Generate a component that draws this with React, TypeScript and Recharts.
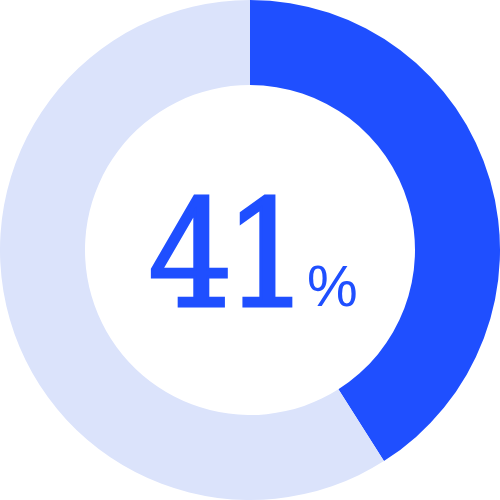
import { PieChart, Pie, Cell } from "recharts";

const labels = ["Done", "Remaining"];
const values = [41, 59];
const colors = ["#1f4fff", "#dbe3fb"];

const data = labels.map((name, i) => ({ name, value: values[i] }));

export default function App() {
  return (
    <div style={{ position: "fixed", left: 0, top: 0, width: 500, height: 500, background: "#fff" }}>
      <PieChart width={500} height={500} margin={{ top: 0, right: 0, bottom: 0, left: 0 }}>
        <Pie
          data={data}
          dataKey="value"
          cx={250}
          cy={250}
          innerRadius={165}
          outerRadius={250}
          startAngle={90}
          endAngle={-270}
          stroke="none"
          isAnimationActive={false}
        >
          {data.map((d, i) => (
            <Cell key={d.name} fill={colors[i]} />
          ))}
        </Pie>
        <text
          x={225}
          y={306}
          textAnchor="middle"
          fill="#1f4fff"
          stroke="#1f4fff"
          strokeWidth={3}
          style={{ fontFamily: "'DejaVu Serif Condensed', 'DejaVu Serif', serif", fontSize: 148, letterSpacing: -8 }}
        >
          {values[0]}
        </text>
        <text
          x={307}
          y={306}
          textAnchor="start"
          fill="#1f4fff"
          style={{ fontFamily: "'Liberation Sans', sans-serif", fontSize: 57 }}
        >
          %
        </text>
      </PieChart>
    </div>
  );
}
